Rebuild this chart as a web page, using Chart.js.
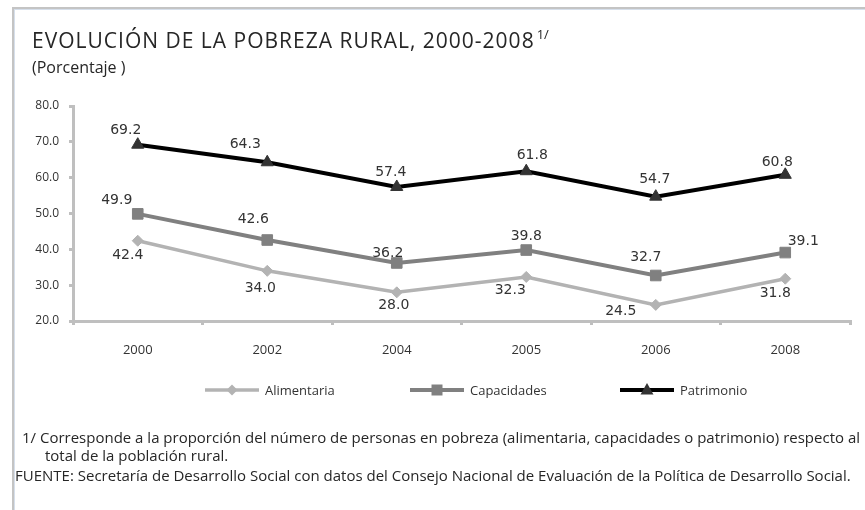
<!DOCTYPE html>
<html>
<head>
<meta charset="utf-8">
<title>Evolución de la pobreza rural</title>
<script src="https://cdn.jsdelivr.net/npm/chart.js@4.4.1/dist/chart.umd.min.js"></script>
<style>
  html, body { margin: 0; padding: 0; background: #ffffff; }
  #wrap { width: 865px; height: 510px; position: relative; }
</style>
</head>
<body>
<div id="wrap"><canvas id="pobreza-chart" width="865" height="510"></canvas></div>
<script>
// Data
const years = ['2000', '2002', '2004', '2005', '2006', '2008'];
const alimentaria = [42.4, 34.0, 28.0, 32.3, 24.5, 31.8];
const capacidades = [49.9, 42.6, 36.2, 39.8, 32.7, 39.1];
const patrimonio = [69.2, 64.3, 57.4, 61.8, 54.7, 60.8];
const yTicks = [20, 30, 40, 50, 60, 70, 80];

const titleText = 'EVOLUCIÓN DE LA POBREZA RURAL, 2000-2008';
const subtitleText = '(Porcentaje )';
const noteLines = [
  '1/ Corresponde a la proporción del número de personas en pobreza (alimentaria, capacidades o patrimonio) respecto al',
  'total de la población rural.',
  'FUENTE: Secretaría de Desarrollo Social con datos del Consejo Nacional de Evaluación de la Política de Desarrollo Social.'
];

const AXIS_GRAY = '#bfbfbf';
const TEXT = '#333333';

// Draw a marker the way the series shows it
function drawMarker(ctx, style, x, y, color) {
  ctx.save();
  ctx.fillStyle = color;
  ctx.beginPath();
  if (style === 'rectRot') {
    ctx.moveTo(x, y - 5.5); ctx.lineTo(x + 5.5, y); ctx.lineTo(x, y + 5.5); ctx.lineTo(x - 5.5, y);
  } else if (style === 'rect') {
    ctx.rect(x - 5.5, y - 5.5, 11, 11);
  } else {
    ctx.moveTo(x, y - 7); ctx.lineTo(x + 6.5, y + 4.5); ctx.lineTo(x - 6.5, y + 4.5);
  }
  ctx.closePath();
  ctx.fill();
  ctx.restore();
}

// Frame, title, legend, data labels and notes
const decorPlugin = {
  id: 'decor',
  beforeDraw(chart) {
    const ctx = chart.ctx;
    ctx.save();
    ctx.fillStyle = '#ffffff';
    ctx.fillRect(0, 0, chart.width, chart.height);
    // frame
    ctx.fillStyle = '#c4c4c4';
    ctx.fillRect(12, 7, chart.width - 12, 2);
    ctx.fillRect(12, 7, 2, chart.height - 7);
    ctx.fillStyle = '#d6dfeb';
    ctx.fillRect(14, 9, chart.width - 14, 1);
    ctx.fillRect(14, 9, 1, chart.height - 9);

    // title
    ctx.fillStyle = '#262626';
    ctx.textBaseline = 'alphabetic';
    ctx.textAlign = 'left';
    ctx.font = '21px "Open Sans"';
    ctx.letterSpacing = '1px';
    ctx.fillText(titleText, 32, 48);
    const tw = ctx.measureText(titleText).width;
    ctx.letterSpacing = '0px';
    ctx.font = '13px "Open Sans"';
    ctx.fillText('1/', 32 + tw + 2, 39);
    ctx.font = '16px "Open Sans"';
    ctx.fillText(subtitleText, 32, 73);

    // notes
    ctx.font = '15px "Open Sans"';
    const k = 838 / ctx.measureText(noteLines[0]).width;
    ctx.save();
    ctx.scale(k, 1);
    ctx.fillText(noteLines[0], 22 / k, 443);
    ctx.fillText(noteLines[1], 45 / k, 461);
    ctx.restore();
    ctx.fillText(noteLines[2], 15, 481, 847);
    ctx.restore();
  },
  afterDatasetsDraw(chart) {
    const ctx = chart.ctx;
    ctx.save();
    // data labels
    ctx.font = '14px "DejaVu Sans"';
    ctx.fillStyle = TEXT;
    ctx.textAlign = 'center';
    ctx.textBaseline = 'middle';
    chart.data.datasets.forEach((ds, i) => {
      const meta = chart.getDatasetMeta(i);
      meta.data.forEach((pt, j) => {
        const off = ds.labelOffsets[j];
        ctx.fillText(ds.data[j].toFixed(1), pt.x + off[0], pt.y + off[1]);
      });
    });

    // legend: line with marker in the middle
    const legendX = [205, 410, 620];
    const ly = 390;
    ctx.textAlign = 'left';
    ctx.font = '13px "Open Sans"';
    chart.data.datasets.forEach((ds, i) => {
      const x = legendX[i];
      ctx.strokeStyle = ds.borderColor;
      ctx.lineWidth = ds.borderWidth;
      ctx.beginPath();
      ctx.moveTo(x, ly);
      ctx.lineTo(x + 54, ly);
      ctx.stroke();
      drawMarker(ctx, ds.pointStyle, x + 27, ly, ds.pointBackgroundColor);
      ctx.fillStyle = TEXT;
      ctx.fillText(ds.label, x + 60, ly + 1);
    });
    ctx.restore();
  }
};

const ctx = document.getElementById('pobreza-chart');

new Chart(ctx, {
  type: 'line',
  data: {
    labels: years,
    datasets: [
      {
        label: 'Alimentaria',
        data: alimentaria,
        borderColor: '#b3b3b3',
        backgroundColor: '#b3b3b3',
        borderWidth: 3.5,
        pointStyle: 'rectRot',
        pointRadius: 5.5,
        pointBackgroundColor: '#b3b3b3',
        pointBorderColor: '#b3b3b3',
        pointBorderWidth: 1,
        tension: 0,
        labelOffsets: [[-10, 15], [-7, 18], [-3, 13], [-16, 13], [-35, 6], [-10, 15]]
      },
      {
        label: 'Capacidades',
        data: capacidades,
        borderColor: '#808080',
        backgroundColor: '#808080',
        borderWidth: 4,
        pointStyle: 'rect',
        pointRadius: 7.5,
        pointBackgroundColor: '#808080',
        pointBorderColor: '#808080',
        pointBorderWidth: 1,
        tension: 0,
        labelOffsets: [[-21, -13], [-14, -21], [-9, -10], [0, -14], [-10, -18], [18, -11]]
      },
      {
        label: 'Patrimonio',
        data: patrimonio,
        borderColor: '#000000',
        backgroundColor: '#333333',
        borderWidth: 4,
        pointStyle: 'triangle',
        pointRadius: 7,
        pointBackgroundColor: '#333333',
        pointBorderColor: '#333333',
        pointBorderWidth: 1,
        tension: 0,
        labelOffsets: [[-12, -14], [-22, -18], [-6, -15], [6, -16], [-1, -17], [-8, -12]]
      }
    ]
  },
  options: {
    responsive: false,
    animation: false,
    devicePixelRatio: 1,
    layout: {
      padding: { left: 13, right: 15, top: 106, bottom: 149 }
    },
    plugins: {
      legend: { display: false },
      title: { display: false },
      tooltip: { enabled: false }
    },
    scales: {
      x: {
        type: 'category',
        offset: true,
        grid: {
          display: true,
          drawOnChartArea: false,
          offset: true,
          color: AXIS_GRAY,
          lineWidth: 3,
          tickLength: 4
        },
        border: { display: true, color: AXIS_GRAY, width: 3 },
        ticks: {
          color: TEXT,
          font: { family: 'Open Sans', size: 13 },
          padding: 17,
          maxRotation: 0
        },
        afterFit(scale) { scale.height = 40; }
      },
      y: {
        min: yTicks[0],
        max: yTicks[yTicks.length - 1],
        afterBuildTicks(scale) {
          scale.ticks = yTicks.map(v => ({ value: v }));
        },
        grid: {
          display: true,
          drawOnChartArea: false,
          color: AXIS_GRAY,
          lineWidth: 3,
          tickLength: 4
        },
        border: { display: true, color: AXIS_GRAY, width: 3 },
        ticks: {
          color: TEXT,
          font: { family: 'Open Sans', size: 12 },
          padding: 10,
          callback: function(value) {
            return Number(value).toFixed(1);
          }
        },
        afterFit(scale) { scale.width = 60; }
      }
    }
  },
  plugins: [decorPlugin]
});
</script>
</body>
</html>
